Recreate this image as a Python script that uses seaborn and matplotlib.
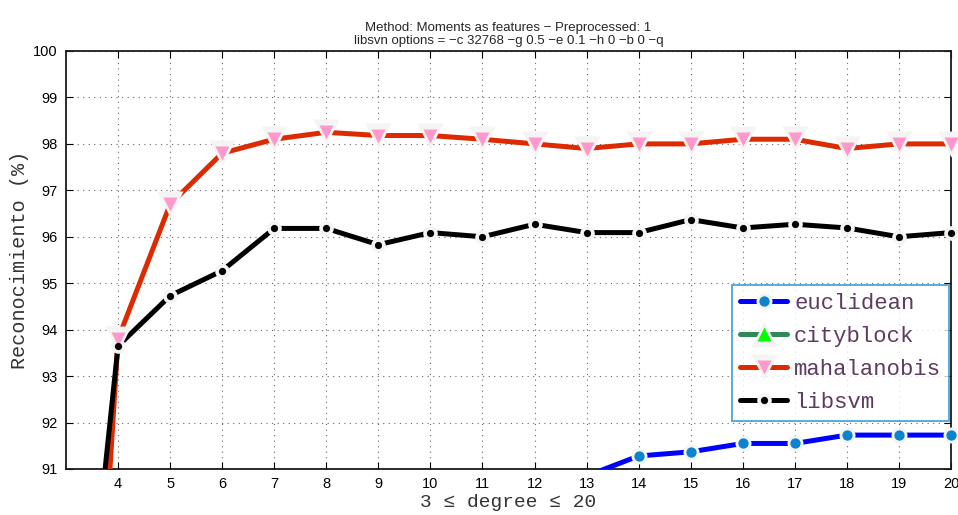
import numpy as np
import pandas as pd
import seaborn as sns
import matplotlib
matplotlib.use("Agg")
import matplotlib.pyplot as plt
from matplotlib.lines import Line2D

# Recognition rate (%) per polynomial degree for each classifier
degree = list(range(3, 21))
euclidean = [84.0, 85.5, 86.8, 87.6, 88.2, 88.7, 89.1, 89.5, 89.8, 90.3, 90.85,
             91.28, 91.37, 91.55, 91.55, 91.73, 91.73, 91.73]
cityblock = [83.5, 84.9, 86.0, 86.9, 87.5, 88.0, 88.4, 88.8, 89.1, 89.4, 89.6,
             89.9, 90.1, 90.2, 90.3, 90.4, 90.5, 90.5]
mahalanobis = [75.8, 93.8, 96.7, 97.8, 98.1, 98.25, 98.18, 98.18, 98.1, 98.0, 97.9,
               98.0, 98.0, 98.1, 98.1, 97.9, 98.0, 98.0]
libsvm = [83.0, 93.65, 94.73, 95.27, 96.18, 96.18, 95.83, 96.09, 96.0, 96.27, 96.09,
          96.09, 96.37, 96.19, 96.27, 96.19, 96.0, 96.09]

series_names = ["euclidean", "cityblock", "mahalanobis", "libsvm"]
series_values = [euclidean, cityblock, mahalanobis, libsvm]

yticks = list(range(91, 101))
xticks = list(range(4, 21))

# marker: outer halo size (pt), inner face size (pt)
styles = {
    "euclidean": dict(color="#0000ff", marker="o", mfc="#0a84cc", halo=11.5, ms=7.4),
    "cityblock": dict(color="#2e8b57", marker="^", mfc="#00ff00", halo=19, ms=10.5),
    "mahalanobis": dict(color="#de2a00", marker="v", mfc="#ff99cc", halo=19, ms=10.5),
    "libsvm": dict(color="#000000", marker="o", mfc="#000000", halo=10.5, ms=5.2),
}
HALO = "#f4f4f4"
LW = 3.6

df = pd.DataFrame({
    "degree": degree * len(series_names),
    "rate": sum(series_values, []),
    "method": np.repeat(series_names, len(degree)),
})

sns.set_theme(style="ticks")
plt.rcParams["font.family"] = ["Liberation Sans", "DejaVu Sans"]

fig = plt.figure(figsize=(9.58, 5.15), dpi=100)
ax = fig.add_axes([66 / 958, 1 - 469 / 515, (951 - 66) / 958, (469 - 51) / 515])

ylo, yhi = 91, 100
for name in series_names:
    st = styles[name]
    sub = df[df["method"] == name]
    sns.lineplot(data=sub, x="degree", y="rate", ax=ax, color=st["color"],
                 lw=LW, legend=False, zorder=3)
    vis = sub[(sub["rate"] >= ylo) & (sub["rate"] <= yhi)]
    ax.plot(vis["degree"], vis["rate"], ls="none", marker=st["marker"],
            ms=st["halo"], mfc=HALO, mec="none", clip_on=False, zorder=4)
    ax.plot(vis["degree"], vis["rate"], ls="none", marker=st["marker"],
            ms=st["ms"], mfc=st["mfc"], mec="none", clip_on=False, zorder=5)

ax.set_xlim(3, 20)
ax.set_ylim(ylo, yhi)
ax.set_xticks(xticks)
ax.set_yticks(yticks)
ax.tick_params(direction="in", length=5, width=0.8, labelsize=10.5,
               top=True, right=True, pad=6, colors="black")
for s in ax.spines.values():
    s.set_linewidth(1.3)
    s.set_color("#1a1a1a")
ax.grid(True, ls=(0, (1, 4)), color="#666666", lw=0.8)

ax.set_xlabel("3 \u2264 degree \u2264 20", family=["Liberation Mono", "DejaVu Sans Mono"],
              fontsize=14, color="#333333", labelpad=2)
ax.set_ylabel("Reconocimiento (%)", family=["Liberation Mono", "DejaVu Sans Mono"],
              fontsize=14.5, color="#333333", labelpad=3)
ax.set_title("Method: Moments as features \u2212 Preprocessed: 1\n"
             "libsvn options = \u2212c 32768 \u2212g 0.5 \u2212e 0.1 \u2212h 0 \u2212b 0 \u2212q",
             fontsize=9.5, pad=5, linespacing=1.15)

handles = []
for name in series_names:
    st = styles[name]
    outer = Line2D([0], [0], color=st["color"], lw=LW, marker=st["marker"],
                   ms=st["halo"], mfc=HALO, mec="none")
    inner = Line2D([0], [0], ls="none", marker=st["marker"], ms=st["ms"],
                   mfc=st["mfc"], mec="none")
    handles.append((outer, inner))
leg = ax.legend(handles, series_names, loc="lower right",
                bbox_to_anchor=(949 / 958, 1 - 421 / 515),
                bbox_transform=fig.transFigure,
                prop={"family": ["Liberation Mono", "DejaVu Sans Mono"], "size": 16},
                frameon=True, fancybox=False, handlelength=2.15, handletextpad=0.3,
                labelspacing=0.55, borderpad=0.35, borderaxespad=0)
leg.get_frame().set_edgecolor("#1f8fd6")
leg.get_frame().set_linewidth(1.3)
leg.set_zorder(10)
for t in leg.get_texts():
    t.set_color("#5e3b60")

fig.savefig("out.png", dpi=100)
